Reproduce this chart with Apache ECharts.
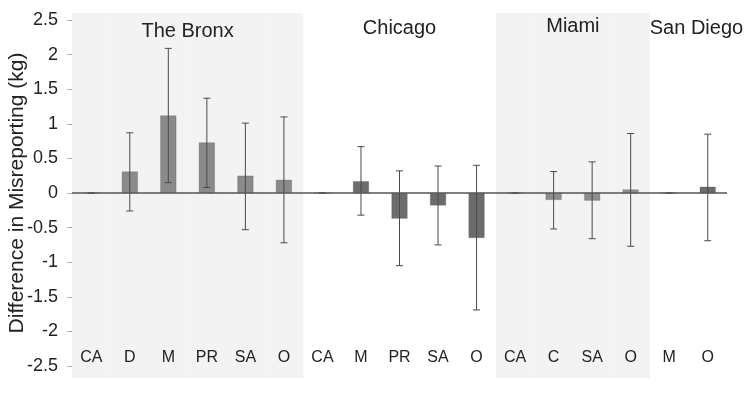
<!DOCTYPE html>
<html>
<head>
<meta charset="utf-8">
<script src="https://cdn.jsdelivr.net/npm/echarts@6/dist/echarts.min.js"></script>
<style>
  html, body { margin: 0; padding: 0; background: #fff; }
  #chart { width: 752px; height: 393px; }
</style>
</head>
<body>
<div id="chart"></div>
<script>
// groups along the x axis
const regions = ["The Bronx", "Chicago", "Miami", "San Diego"];
const regionSizes = [6, 5, 4, 2];
const shadedRegions = [true, false, true, false];

// categories (left to right)
const categories = ["CA", "D", "M", "PR", "SA", "O", "CA", "M", "PR", "SA", "O", "CA", "C", "SA", "O", "M", "O"];

// mean difference and error bar ends (kg)
const means = [0, 0.31, 1.12, 0.73, 0.25, 0.19, 0, 0.17, -0.37, -0.18, -0.65, 0, -0.10, -0.11, 0.05, 0, 0.09];
const errLow = [0, -0.26, 0.15, 0.08, -0.53, -0.72, 0, -0.32, -1.05, -0.75, -1.69, 0, -0.52, -0.66, -0.77, 0, -0.69];
const errHigh = [0, 0.87, 2.09, 1.37, 1.01, 1.10, 0, 0.67, 0.32, 0.39, 0.40, 0, 0.31, 0.45, 0.86, 0, 0.85];

const yTicks = { min: -2.5, max: 2.5, step: 0.5 };

const FONT = "Liberation Sans, Arial, sans-serif";
const regionColors = ["#8a8a8a", "#6c6c6c", "#8d8d8d", "#6c6c6c"];
const labelOffsets = [[0, 2], [0, -1], [0, -3], [8, -1]];

// which region every category belongs to
var regionOf = [];
regions.forEach(function (r, i) {
  for (var k = 0; k < regionSizes[i]; k++) regionOf.push(i);
});

var barData = means.map(function (v, i) {
  return { value: v, itemStyle: { color: regionColors[regionOf[i]] } };
});
var errData = means.map(function (v, i) {
  return [i, errLow[i], errHigh[i]];
});
var shadeData = regionOf.map(function (r) {
  return shadedRegions[r] ? 1 : "-";
});
var areas = [];
var start = 0;
regions.forEach(function (r, i) {
  var end = start + regionSizes[i] - 1;
  areas.push([
    { name: r, xAxis: start, label: { offset: labelOffsets[i] } },
    { xAxis: end }
  ]);
  start = end + 1;
});

function renderErr(params, api) {
  var x = api.value(0);
  var lo = api.coord([x, api.value(1)]);
  var hi = api.coord([x, api.value(2)]);
  var cap = 3.5;
  var style = { stroke: "#4a4a4a", lineWidth: 1 };
  return {
    type: "group",
    children: [
      { type: "line", shape: { x1: hi[0], y1: hi[1], x2: lo[0], y2: lo[1] }, style: style },
      { type: "line", shape: { x1: hi[0] - cap, y1: hi[1], x2: hi[0] + cap, y2: hi[1] }, style: style },
      { type: "line", shape: { x1: lo[0] - cap, y1: lo[1], x2: lo[0] + cap, y2: lo[1] }, style: style }
    ]
  };
}

var chart = echarts.init(document.getElementById("chart"));
chart.setOption({
  animation: false,
  textStyle: { fontFamily: FONT },
  grid: [
    { left: 72, right: 25, top: 13, bottom: 15, containLabel: false, outerBoundsMode: "none" },
    { left: 72, right: 25, top: 20, bottom: 27, containLabel: false, outerBoundsMode: "none" }
  ],
  xAxis: [
    { type: "category", gridIndex: 0, data: categories, show: false },
    {
      type: "category",
      gridIndex: 1,
      data: categories,
      axisLine: { show: false, onZero: false },
      axisTick: { show: false },
      axisLabel: { margin: -16, fontSize: 16, color: "#222", interval: 0, fontFamily: FONT }
    }
  ],
  yAxis: [
    { type: "value", gridIndex: 0, min: 0, max: 1, show: false },
    {
      type: "value",
      gridIndex: 1,
      min: yTicks.min,
      max: yTicks.max,
      interval: yTicks.step,
      name: "Difference in Misreporting (kg)",
      nameLocation: "middle",
      nameGap: 44,
      nameMoveOverlap: false,
      nameTextStyle: { fontSize: 21, color: "#222", fontFamily: FONT },
      axisLine: { show: true, lineStyle: { color: "#b0b0b0", width: 1 } },
      axisTick: { show: true, length: 5, lineStyle: { color: "#b0b0b0" } },
      axisLabel: { margin: 14, fontSize: 18, color: "#222", fontFamily: FONT },
      splitLine: { show: false }
    }
  ],
  series: [
    {
      type: "bar",
      xAxisIndex: 0,
      yAxisIndex: 0,
      data: shadeData,
      barWidth: "100%",
      itemStyle: { color: "#f3f3f3" },
      silent: true,
      z: 0,
      markArea: {
        silent: true,
        itemStyle: { color: "transparent" },
        label: {
          show: true,
          position: "insideTop",
          distance: 6,
          fontSize: 20,
          color: "#222",
          fontFamily: FONT
        },
        data: areas
      }
    },
    {
      type: "bar",
      xAxisIndex: 1,
      yAxisIndex: 1,
      data: barData,
      barWidth: 16,
      z: 2,
      itemStyle: { borderColor: "rgba(70,70,70,0.5)", borderWidth: 0.5 },
      markLine: {
        silent: true,
        symbol: "none",
        label: { show: false },
        lineStyle: { color: "#555", width: 1.5, type: "solid" },
        data: [{ yAxis: 0 }]
      }
    },
    {
      type: "custom",
      xAxisIndex: 1,
      yAxisIndex: 1,
      data: errData,
      renderItem: renderErr,
      z: 3,
      silent: true
    }
  ]
});
</script>
</body>
</html>
